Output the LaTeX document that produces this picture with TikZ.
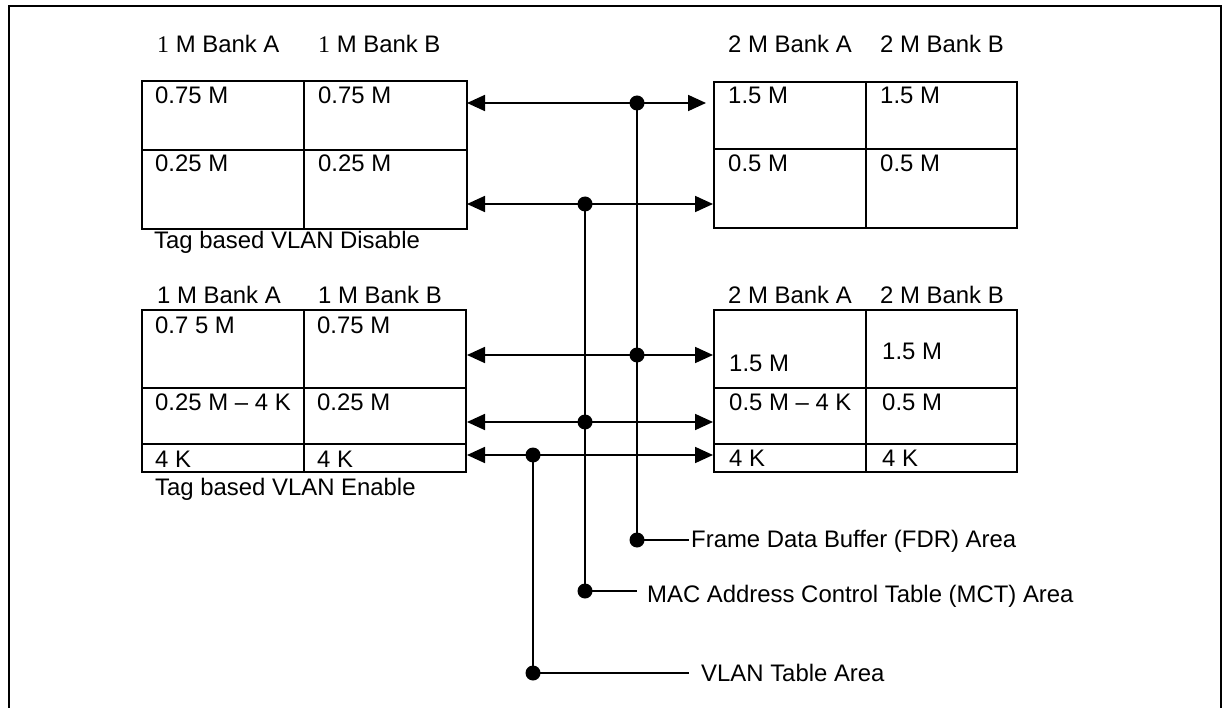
\documentclass[tikz,border=0pt]{standalone}
\usepackage{fontspec}
\setmainfont{Liberation Sans}
\newfontfamily\serifone{Liberation Serif}
\usetikzlibrary{arrows.meta}
\begin{document}
\begin{tikzpicture}[x=1pt,y=-1pt,
  txt/.style={anchor=base west, inner sep=0pt, font=\fontsize{23.9}{28}\selectfont},
  tbl/.style={draw, line width=2pt, inner sep=0pt, outer sep=0pt},
  cell/.style={line width=2pt},
  conn/.style={line width=1.8pt, {Triangle[length=18pt,width=16pt]}-{Triangle[length=18pt,width=16pt]}},
  bus/.style={line width=1.6pt},
  dot/.style={circle, fill, inner sep=0pt, minimum size=15pt}]
\useasboundingbox (0,0) rectangle (1222,708);
\clip (0,0) rectangle (1222,708);
% outer frame
\draw[line width=2.2pt] (9,730) -- (9,6) -- (1221,6) -- (1221,730);

% ---------- top-left table (Disable) ----------
\node[tbl, minimum width=325pt, minimum height=148pt] (TL) at (304.5,155) {};
\draw[cell] (304,81) -- (304,229);
\draw[cell] (142,150) -- (467,150);
\node[txt] (hTLa) at (157,53) {{\serifone 1} M Bank A};
\node[txt] (hTLb) at (318,53) {{\serifone 1} M Bank B};
\node[txt] (cTL1) at (155,104) {0.75 M};
\node[txt] (cTL2) at (318,104) {0.75 M};
\node[txt] (cTL3) at (155,172) {0.25 M};
\node[txt] (cTL4) at (318,172) {0.25 M};
\node[txt] (capTL) at (154,249) {Tag based VLAN Disable};

% ---------- top-right table ----------
\node[tbl, minimum width=303pt, minimum height=146pt] (TR) at (865.5,155) {};
\draw[cell] (866,82) -- (866,228);
\draw[cell] (714,149) -- (1017,149);
\node[txt] (hTRa) at (728,53) {2 M Bank A};
\node[txt] (hTRb) at (880,53) {2 M Bank B};
\node[txt] (cTR1) at (728,104) {1.5 M};
\node[txt] (cTR2) at (880,104) {1.5 M};
\node[txt] (cTR3) at (728,172) {0.5 M};
\node[txt] (cTR4) at (880,172) {0.5 M};

% ---------- lower-left table (Enable) ----------
\node[tbl, minimum width=324pt, minimum height=162pt] (BL) at (304,391) {};
\draw[cell] (304,310) -- (304,472);
\draw[cell] (142,388) -- (466,388);
\draw[cell] (142,444) -- (466,444);
\node[txt] (hBLa) at (157,303) {1 M Bank A};
\node[txt] (hBLb) at (318,303) {1 M Bank B};
\node[txt] (cBL1) at (155,333) {0.7 5 M};
\node[txt] (cBL2) at (317,333) {0.75 M};
\node[txt] (cBL3) at (155,410) {0.25 M -- 4 K};
\node[txt] (cBL4) at (317,410) {0.25 M};
\node[txt] (cBL5) at (155,467) {4 K};
\node[txt] (cBL6) at (317,467) {4 K};
\node[txt] (capBL) at (155,495) {Tag based VLAN Enable};

% ---------- lower-right table ----------
\node[tbl, minimum width=303pt, minimum height=162pt] (BR) at (865.5,391) {};
\draw[cell] (866,310) -- (866,472);
\draw[cell] (714,388) -- (1017,388);
\draw[cell] (714,444) -- (1017,444);
\node[txt] (hBRa) at (728,303) {2 M Bank A};
\node[txt] (hBRb) at (880,303) {2 M Bank B};
\node[txt] (cBR1) at (729,371) {1.5 M};
\node[txt] (cBR2) at (882,359) {1.5 M};
\node[txt] (cBR3) at (729,410) {0.5 M -- 4 K};
\node[txt] (cBR4) at (882,410) {0.5 M};
\node[txt] (cBR5) at (729,466) {4 K};
\node[txt] (cBR6) at (882,466) {4 K};

% ---------- arrow end points ----------
\coordinate (a1l) at (467,103); \coordinate (a1r) at (706,103);
\coordinate (a2l) at (467,204); \coordinate (a2r) at (713,204);
\coordinate (a3l) at (467,355); \coordinate (a3r) at (713,355);
\coordinate (a4l) at (467,422); \coordinate (a4r) at (713,422);
\coordinate (a5l) at (467,455); \coordinate (a5r) at (713,455);

% ---------- junction dots ----------
\node[dot] (j1) at (637,103) {};
\node[dot] (j2) at (585,204) {};
\node[dot] (j3) at (637,355) {};
\node[dot] (j4) at (585,422) {};
\node[dot] (j5) at (533,455) {};
\node[dot] (dF) at (637,540) {};
\node[dot] (dM) at (585,591) {};
\node[dot] (dV) at (533,673) {};

% ---------- connectors ----------
\draw[conn] (a1l) -- (a1r);
\draw[conn] (a2l) -- (a2r);
\draw[conn] (a3l) -- (a3r);
\draw[conn] (a4l) -- (a4r);
\draw[conn] (a5l) -- (a5r);
\draw[bus] (j1.center) -- (dF.center);
\draw[bus] (j2.center) -- (dM.center);
\draw[bus] (j5.center) -- (dV.center);

% ---------- labels ----------
\coordinate (eF) at (689,540);
\coordinate (eM) at (637,591);
\coordinate (eV) at (689,673);
\draw[bus] (dF.center) -- (eF);
\draw[bus] (dM.center) -- (eM);
\draw[bus] (dV.center) -- (eV);
\node[txt] (lF) at (691,547) {Frame Data Buffer (FDR) Area};
\node[txt] (lM) at (647,602) {MAC Address Control Table (MCT) Area};
\node[txt] (lV) at (701,681) {VLAN Table Area};
\end{tikzpicture}
\end{document}
